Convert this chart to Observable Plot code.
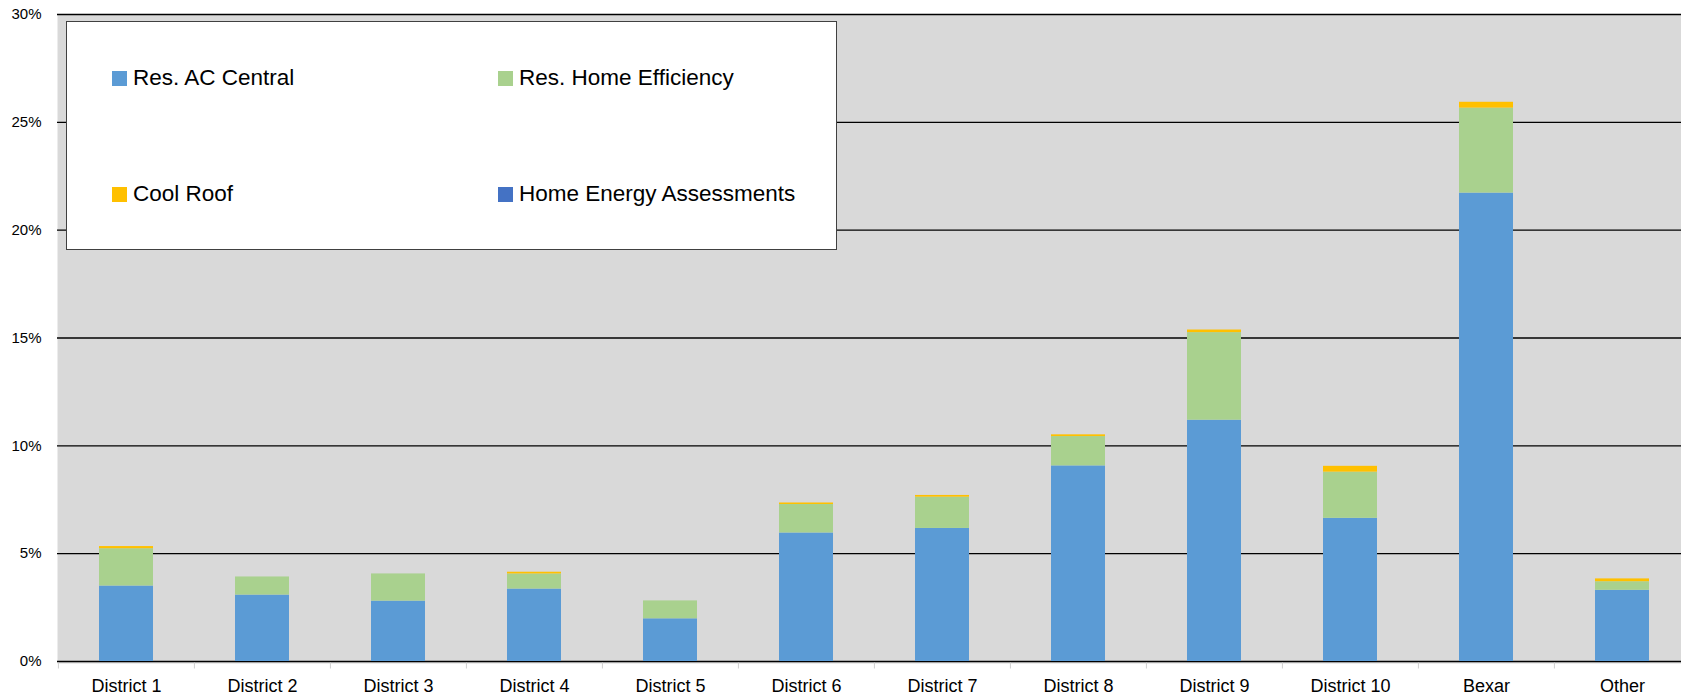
<!DOCTYPE html>
<html><head><meta charset="utf-8">
<script src="https://cdn.jsdelivr.net/npm/d3@7"></script>
<script src="https://cdn.jsdelivr.net/npm/@observablehq/plot@0.6"></script>
<style>
html,body{margin:0;padding:0;background:#fff;overflow:hidden;}
#wrap{position:relative;width:1681px;height:699px;overflow:hidden;}
#chart svg{max-width:none !important;}
#legend{position:absolute;left:66px;top:21px;width:771px;height:229px;background:#fff;border:1px solid #404040;box-sizing:border-box;font-family:"Liberation Sans",Arial,sans-serif;font-size:22.5px;color:#000;}
.item{position:absolute;display:flex;align-items:center;white-space:nowrap;transform:translateY(-50%);}
.sw{width:15px;height:15px;margin-right:6px;flex:none;}
</style></head><body>
<div id="wrap"><div id="chart"></div><div id="legend"></div></div>
<script>
const categories = ["District 1","District 2","District 3","District 4","District 5","District 6","District 7","District 8","District 9","District 10","Bexar","Other"];
const resAcCentral          = [3.50, 3.08, 2.80, 3.36, 1.98, 5.96, 6.17, 9.07, 11.19, 6.64, 21.72, 3.30];
const resHomeEfficiency     = [1.73, 0.84, 1.26, 0.70, 0.83, 1.32, 1.45, 1.36, 4.06, 2.14, 3.94, 0.40];
const coolRoof              = [0.10, 0.00, 0.00, 0.08, 0.00, 0.07, 0.08, 0.08, 0.12, 0.27, 0.27, 0.13];
const homeEnergyAssessments = [0, 0, 0, 0, 0, 0, 0, 0, 0, 0, 0, 0];
const seriesNames  = ["Res. AC Central","Res. Home Efficiency","Cool Roof","Home Energy Assessments"];
const seriesColors = ["#5b9bd5","#a9d18e","#ffc000","#4472c4"];
const yTicks = [0,5,10,15,20,25,30];

const seriesValues = [resAcCentral, resHomeEfficiency, coolRoof, homeEnergyAssessments];
const data = [];
seriesNames.forEach((s, si) => categories.forEach((c, ci) => data.push({category: c, series: s, value: seriesValues[si][ci]})));

const W = 1691, H = 699, mL = 57, mR = 0, mT = 14, mB = 38;
const step = (W - mL - mR) / categories.length;
const fmt = d => d + "%";

const chart = Plot.plot({
  width: W, height: H,
  marginLeft: mL, marginRight: mR, marginTop: mT, marginBottom: mB,
  style: {fontFamily: "'Liberation Sans', Arial, sans-serif", background: "transparent", overflow: "visible", maxWidth: "none"},
  x: {domain: categories, paddingInner: 0.6, paddingOuter: 0.3, label: null},
  y: {domain: [0, 30], label: null},
  color: {domain: seriesNames, range: seriesColors},
  marks: [
    Plot.frame({fill: "#d9d9d9", stroke: "none", insetBottom: -2}),
    Plot.gridY(yTicks, {stroke: "#000", strokeOpacity: 1, strokeWidth: 1.3}),
    Plot.barY(data, {x: "category", y: "value", fill: "series"}),
    Plot.axisY(yTicks, {tickSize: 0, tickPadding: 16, fontSize: 15, tickFormat: fmt, fill: "#000"}),
    Plot.axisX({tickSize: 0, tickPadding: 18, fontSize: 18, fill: "#000"}),
    Plot.axisX({tickSize: 6, tickFormat: () => "", dx: -step / 2, dy: 1.5, stroke: "#cfcfcf"})
  ]
});
document.getElementById("chart").appendChild(chart);

const legend = document.getElementById("legend");
const pos = [[45, 56], [431, 56], [45, 172], [431, 172]];
seriesNames.forEach((s, i) => {
  const it = document.createElement("div");
  it.className = "item";
  it.style.left = pos[i][0] + "px";
  it.style.top = pos[i][1] + "px";
  const sw = document.createElement("span");
  sw.className = "sw";
  sw.style.background = seriesColors[i];
  const tx = document.createElement("span");
  tx.textContent = s;
  it.appendChild(sw); it.appendChild(tx);
  legend.appendChild(it);
});
</script>
</body></html>
